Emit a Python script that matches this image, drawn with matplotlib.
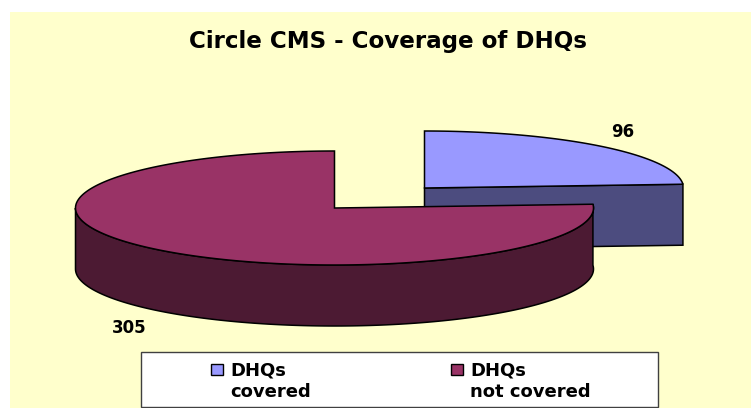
import numpy as np
import matplotlib
matplotlib.use('Agg')
import matplotlib.pyplot as plt
from matplotlib.patches import Polygon, Rectangle

# Data
title = 'Circle CMS - Coverage of DHQs'
legend_labels = ['DHQs\ncovered', 'DHQs\nnot covered']
values = [96, 305]
top_colors = ['#9999FF', '#993366']
side_colors = ['#4C4C7F', '#4C1A33']

plt.rcParams['font.family'] = ['DejaVu Sans']

# Pie geometry in image pixels
rx, ry, depth = 259, 57, 61
centers = [(424.5, 188), (334.5, 208)]
total = sum(values)
sweep = [360 * v / total for v in values]
split = 90 - sweep[0]  # angle where the slices meet


def arc(cx, cy, a1, a2, n=200):
    t = np.radians(np.linspace(a1, a2, n))
    return np.column_stack([cx + rx * np.cos(t), cy - ry * np.sin(t)])


def draw_wall(ax, center, a1, a2, color):
    cx, cy = center
    edge = arc(cx, cy, a1, a2)
    wall = np.vstack([edge, (edge + [0, depth])[::-1]])
    ax.add_patch(Polygon(wall, fc=color, ec='black', lw=1.1))


def draw_top(ax, center, a1, a2, color):
    cx, cy = center
    pts = np.vstack([[(cx, cy)], arc(cx, cy, a1, a2, 300)])
    ax.add_patch(Polygon(pts, fc=color, ec='black', lw=1.1))


fig = plt.figure(figsize=(7.51, 4.08), dpi=100, facecolor='white')
ax = fig.add_axes([0, 0, 1, 1])
ax.set_xlim(0, 751)
ax.set_ylim(408, 0)
ax.axis('off')

ax.add_patch(Rectangle((10, 12), 741, 396, fc='#FFFFCC', ec='none'))

ax.text(388, 48, title, fontsize=16.6, fontweight='bold', ha='center', va='baseline')

# blue slice, its cut face shows towards the viewer
cx, cy = centers[0]
p = arc(cx, cy, split, split, 1)[0]
ax.add_patch(Polygon([(cx, cy), p, p + [0, depth], (cx, cy + depth)],
                     fc=side_colors[0], ec='black', lw=1.1))
draw_top(ax, centers[0], split, 90, top_colors[0])

# maroon slice
draw_wall(ax, centers[1], -180, split, side_colors[1])
draw_top(ax, centers[1], split - sweep[1], split, top_colors[1])

ax.text(623, 137, str(values[0]), fontsize=12, fontweight='bold', ha='center', va='baseline')
ax.text(129, 333, str(values[1]), fontsize=12, fontweight='bold', ha='center', va='baseline')

# Legend
ax.add_patch(Rectangle((141, 352), 517, 54.5, fc='white', ec='#404040', lw=1))
for x, label, color in zip([211, 451], legend_labels, top_colors):
    ax.add_patch(Rectangle((x, 364), 12, 10.5, fc=color, ec='black', lw=1))
    first, second = label.split('\n')
    ax.text(x + 19, 375, first, fontsize=13, fontweight='bold', ha='left', va='baseline')
    ax.text(x + 19, 397, second, fontsize=13, fontweight='bold', ha='left', va='baseline')

fig.savefig('out.png', dpi=100)
